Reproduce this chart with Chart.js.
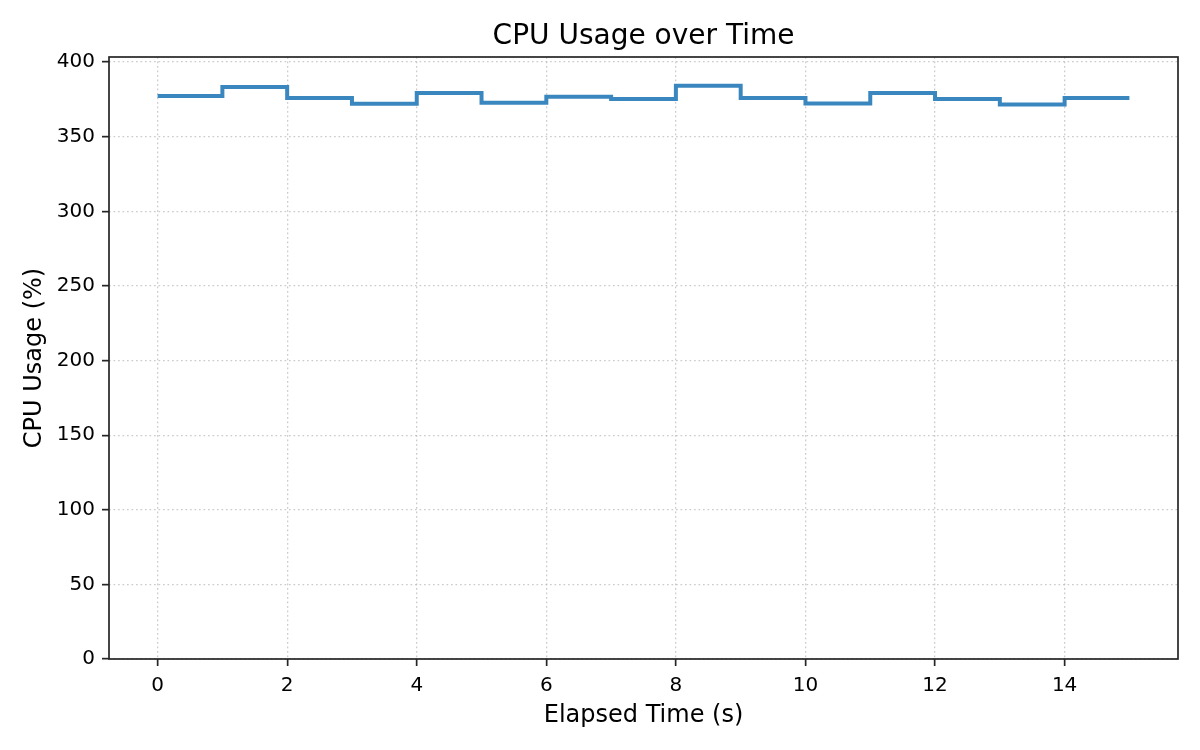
<!DOCTYPE html>
<html lang="en">
<head>
    <meta charset="UTF-8">
    <title>CPU Usage over Time</title>
    <script src="https://cdn.jsdelivr.net/npm/chart.js"></script>
    <style>
        html, body { margin: 0; padding: 0; background: #ffffff; }
        .chart-container { position: relative; width: 1200px; height: 750px; }
    </style>
</head>
<body>
    <div class="chart-container">
        <canvas id="cpuChart" width="1200" height="750"></canvas>
    </div>

    <script>
        // Data
        const elapsedTimes = [0, 1, 2, 3, 4, 5, 6, 7, 8, 9, 10, 11, 12, 13, 14, 15];
        const cpuUsage = [377.3, 383.3, 376.0, 372.0, 379.3, 372.7, 376.7, 375.3,
                          384.2, 376.0, 372.2, 379.3, 375.3, 371.6, 376.0, 376.0];
        const xTickValues = [0, 2, 4, 6, 8, 10, 12, 14];
        const yTickValues = [0, 50, 100, 150, 200, 250, 300, 350, 400];

        const FONT = "'DejaVu Sans', sans-serif";
        const gridColor = 'rgba(176, 176, 176, 0.65)';
        const spineColor = '#262626';

        // Title and full box frame, like matplotlib
        const framePlugin = {
            id: 'frame',
            afterDraw(chart) {
                const { ctx, chartArea: a } = chart;
                ctx.save();
                ctx.strokeStyle = spineColor;
                ctx.lineWidth = 1.7;
                ctx.strokeRect(a.left, a.top, a.right - a.left, a.bottom - a.top);
                ctx.fillStyle = '#000000';
                ctx.font = '28px ' + FONT;
                ctx.textAlign = 'center';
                ctx.textBaseline = 'middle';
                ctx.fillText('CPU Usage over Time', (a.left + a.right) / 2, 36.5);
                ctx.restore();
            }
        };

        const ctx = document.getElementById('cpuChart').getContext('2d');
        new Chart(ctx, {
            type: 'line',
            data: {
                datasets: [{
                    label: 'CPU Usage (%)',
                    data: elapsedTimes.map((t, i) => ({ x: t, y: cpuUsage[i] })),
                    stepped: 'before',
                    borderColor: '#3a87c0',
                    borderWidth: 4,
                    pointRadius: 0,
                    fill: false,
                    tension: 0
                }]
            },
            options: {
                responsive: false,
                animation: false,
                layout: { padding: { top: 57, right: 22, left: 0, bottom: 0 } },
                plugins: {
                    legend: { display: false },
                    tooltip: { enabled: false }
                },
                scales: {
                    x: {
                        type: 'linear',
                        min: -0.75,
                        max: 15.75,
                        afterFit(scale) { scale.height = 91; },
                        afterBuildTicks(scale) { scale.ticks = xTickValues.map(v => ({ value: v })); },
                        grid: {
                            color: gridColor,
                            lineWidth: 1.3,
                            tickColor: spineColor,
                            tickLength: 7,
                            tickWidth: 1.7
                        },
                        border: { display: false, dash: [1.7, 2.8] },
                        ticks: {
                            color: '#000000',
                            font: { family: FONT, size: 20 },
                            padding: 8,
                            maxRotation: 0,
                            autoSkip: false
                        },
                        title: {
                            display: true,
                            text: 'Elapsed Time (s)',
                            color: '#000000',
                            font: { family: FONT, size: 24 },
                            padding: { top: 0, bottom: 20 }
                        }
                    },
                    y: {
                        min: 0,
                        max: 403.4,
                        afterFit(scale) { scale.width = 109; },
                        afterBuildTicks(scale) { scale.ticks = yTickValues.map(v => ({ value: v })); },
                        grid: {
                            color: gridColor,
                            lineWidth: 1.3,
                            tickColor: spineColor,
                            tickLength: 7,
                            tickWidth: 1.7
                        },
                        border: { display: false, dash: [1.7, 2.8] },
                        ticks: {
                            color: '#000000',
                            font: { family: FONT, size: 20 },
                            padding: 7,
                            autoSkip: false
                        },
                        title: {
                            display: true,
                            text: 'CPU Usage (%)',
                            color: '#000000',
                            font: { family: FONT, size: 24 },
                            padding: { top: 20, bottom: 0 }
                        }
                    }
                }
            },
            plugins: [framePlugin]
        });
    </script>
</body>
</html>
